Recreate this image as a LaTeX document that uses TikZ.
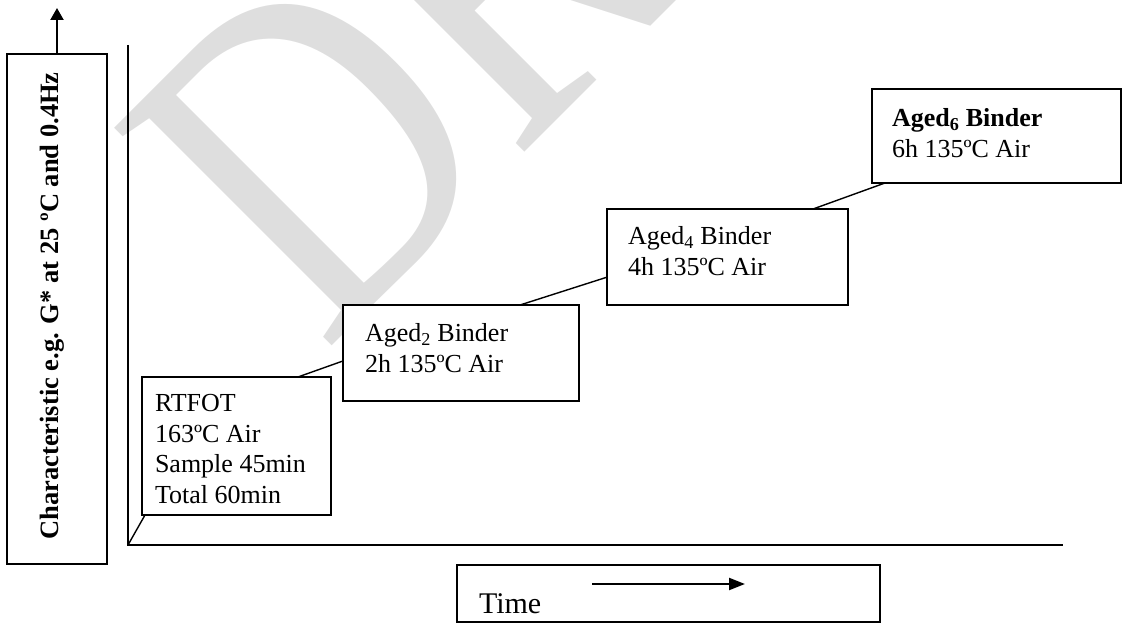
\documentclass[tikz,border=0pt]{standalone}
\usepackage{fontspec}
\setmainfont{Liberation Serif}
\usetikzlibrary{arrows.meta,calc}
\definecolor{wmgray}{RGB}{222,222,222}
\begin{document}
\begin{tikzpicture}[x=1pt,y=-1pt,
  box/.style={draw, line width=1.8pt, fill=white, inner sep=0pt, outer sep=0pt, anchor=north west},
  txt/.style={anchor=base west, inner sep=0pt, outer sep=0pt, align=left, font=\fontsize{26}{30.5}\selectfont},
  link/.style={line width=1.4pt},
  ax/.style={line width=1.5pt},
  bigarrow/.style={line width=2.2pt}]
\useasboundingbox (0,0) rectangle (1123,623);
\begin{scope}
\clip (0,0) rectangle (1123,623);
\node[anchor=base west, inner sep=0pt, outer sep=0pt, rotate=45, text=wmgray, font=\fontsize{470}{470}\selectfont] (wm) at (324,353) {\scalebox{0.80}[1]{DRAFT}};
\end{scope}
% axes
\coordinate (orig) at (128,545);
\coordinate (ytop) at (128,45);
\coordinate (xend) at (1063,545);
\draw[ax] (ytop) -- (orig) -- (xend);
% y label box
\node[box, minimum width=100pt, minimum height=510pt] (ybox) at (7,54) {};
\node[rotate=90, anchor=base, inner sep=0pt, font=\bfseries\fontsize{26.5}{30}\selectfont] (ylab) at (58,306) {Characteristic e.g. G* at 25 ºC and 0.4Hz};
\coordinate (ytip) at (57,8);
\draw[bigarrow, -{Triangle[width=13pt,length=12pt]}] (ybox.north) -- (ytip);
% boxes
\node[box, minimum width=189pt, minimum height=138pt] (b1) at (142,377) {};
\node[box, minimum width=236pt, minimum height=96pt] (b2) at (343,305) {};
\node[box, minimum width=241pt, minimum height=96pt] (b3) at (607,209) {};
\node[box, minimum width=249pt, minimum height=94pt] (b4) at (872,89) {};
\node[txt] (t1) at (155,503) {RTFOT\\163ºC Air\\Sample 45min\\Total 60min};
\node[txt] (t2) at (365,372) {Aged\textsubscript{2} Binder\\2h 135ºC Air};
\node[txt] (t3) at (628,275) {Aged\textsubscript{4} Binder\\4h 135ºC Air};
\node[txt] (t4) at (892,157) {\textbf{Aged\textsubscript{6} Binder}\\6h 135ºC Air};
% connectors
\draw[link] (orig) -- ($(b1.south west)+(3,0)$);
\draw[link] ($(b1.north west)!0.825!(b1.north east)$) -- ($(b2.south west)!0.417!(b2.north west)$);
\draw[link] ($(b2.north west)!0.75!(b2.north east)$) -- ($(b3.south west)!0.29!(b3.north west)$);
\draw[link] ($(b3.north west)!0.855!(b3.north east)$) -- ($(b4.south west)!0.052!(b4.south east)$);
% time box
\node[box, minimum width=423pt, minimum height=57pt] (tbox) at (457,565) {};
\node[txt, font=\fontsize{30}{34}\selectfont] (ttime) at (479,613) {Time};
\coordinate (ta1) at (592,584);
\coordinate (ta2) at (745,584);
\draw[bigarrow, -{Triangle[width=12pt,length=16pt]}] (ta1) -- (ta2);
\end{tikzpicture}
\end{document}
